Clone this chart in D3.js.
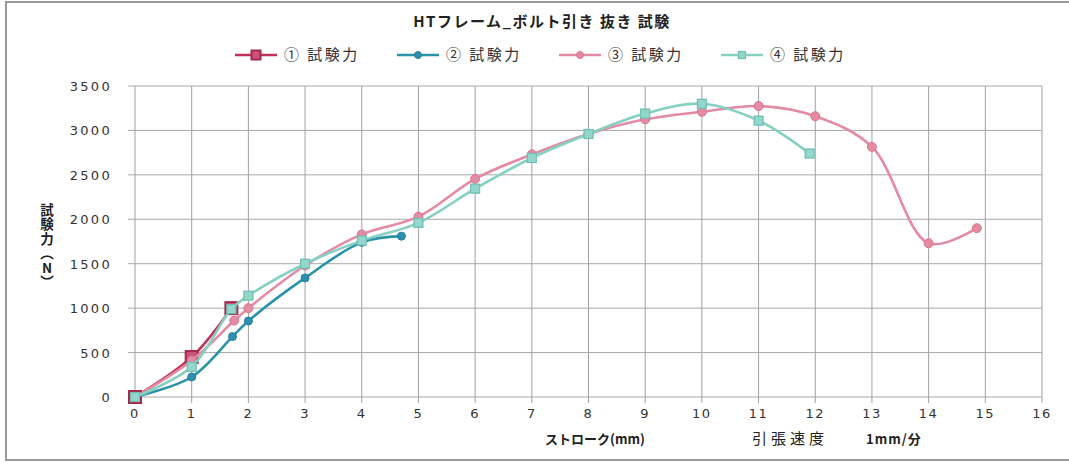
<!DOCTYPE html>
<html><head><meta charset="utf-8">
<script src="https://cdn.jsdelivr.net/npm/d3@7"></script>
<style>
body{margin:0;background:#fff;}
svg{display:block;}
</style></head>
<body><svg id="c" width="1069" height="463"></svg>
<script>
const titleText = "HTフレーム_ボルト引き 抜き 試験";
const seriesNames = ["① 試験力", "② 試験力", "③ 試験力", "④ 試験力"];
const s1x = [0, 1, 1.7];
const s1y = [0, 450, 1000];
const s2x = [0, 1, 1.72, 2, 3, 4, 4.7];
const s2y = [0, 225, 680, 855, 1340, 1740, 1810];
const s3x = [0, 1, 1.75, 2, 3, 4, 5, 6, 7, 8, 9, 10, 11, 12, 13, 14, 14.85];
const s3y = [0, 410, 860, 1000, 1480, 1830, 2030, 2455, 2730, 2960, 3125, 3210, 3275, 3160, 2815, 1730, 1900];
const s4x = [0, 1, 1.7, 2, 3, 4, 5, 6, 7, 8, 9, 10, 11, 11.9];
const s4y = [0, 340, 990, 1140, 1500, 1760, 1960, 2345, 2690, 2960, 3190, 3300, 3110, 2740];
const xTicks = d3.range(0, 17, 1);
const yTicks = [0, 500, 1000, 1500, 2000, 2500, 3000, 3500];
const xTitle = "ストローク(mm)";
const speedLabel = "引張速度";
const speedValue = "1mm/分";
const yTitle = "試験力（N）";

const colors = ["#BF3158", "#2A93A6", "#E58AA3", "#86D0C2"];
const markerStroke = ["#A8284A", "#23809A", "#D9758F", "#6FBFB2"];

const svg = d3.select("#c");
const x = d3.scaleLinear().domain([0, 16]).range([135, 1042]);
const y = d3.scaleLinear().domain([0, 3500]).range([397, 86]);

// frame
svg.append("rect").attr("x", 6).attr("y", 2).attr("width", 1075).attr("height", 458)
  .attr("fill", "#fff").attr("stroke", "#9a9a9a").attr("stroke-width", 2);

// grid
const grid = svg.append("g");
grid.selectAll("line.v").data(xTicks).join("line")
  .attr("x1", d => x(d)).attr("x2", d => x(d)).attr("y1", y(3500)).attr("y2", y(0) + 6)
  .attr("stroke", "#a0a0a0").attr("stroke-width", 1);
grid.selectAll("line.h").data(yTicks).join("line")
  .attr("x1", x(0) - 7).attr("x2", x(16)).attr("y1", d => y(d)).attr("y2", d => y(d))
  .attr("stroke", "#a8a8a8").attr("stroke-width", 1);

// axis labels
const tickFont = "'DejaVu Sans', sans-serif";
svg.append("g").selectAll("text").data(xTicks).join("text")
  .attr("x", d => x(d)).attr("y", 418).attr("text-anchor", "middle")
  .attr("font-family", tickFont).attr("font-size", 13).attr("letter-spacing", 1.5)
  .attr("fill", "#333").text(d => d);
svg.append("g").selectAll("text").data(yTicks).join("text")
  .attr("x", 112).attr("y", d => y(d) + 5).attr("text-anchor", "end")
  .attr("font-family", tickFont).attr("font-size", 13).attr("letter-spacing", 2.3)
  .attr("fill", "#333").text(d => d);

// titles
const jp = "'Noto Sans CJK JP', sans-serif";
svg.append("text").attr("x", 542).attr("y", 27).attr("text-anchor", "middle")
  .attr("font-family", jp).attr("font-weight", "bold").attr("font-size", 15)
  .attr("letter-spacing", 1.5).attr("fill", "#222").text(titleText);
svg.append("text").attr("x", 595).attr("y", 444).attr("text-anchor", "middle")
  .attr("font-family", jp).attr("font-weight", "bold").attr("font-size", 13)
  .attr("fill", "#222").text(xTitle);
svg.append("text").attr("x", 752).attr("y", 444)
  .attr("font-family", jp).attr("font-size", 15).attr("letter-spacing", 4)
  .attr("fill", "#222").text(speedLabel);
svg.append("text").attr("x", 866).attr("y", 444)
  .attr("font-family", jp).attr("font-weight", "bold").attr("font-size", 13).attr("letter-spacing", 1)
  .attr("fill", "#222").text(speedValue);
svg.append("text").attr("x", 47).attr("y", 203)
  .style("writing-mode", "vertical-rl").style("text-orientation", "upright")
  .attr("font-family", jp).attr("font-weight", "bold").attr("font-size", 13.5)
  .attr("letter-spacing", 1).attr("fill", "#222").text(yTitle);

// series
const series = [
  {xs: s1x, ys: s1y, shape: "bigsquare"},
  {xs: s2x, ys: s2y, shape: "circle"},
  {xs: s3x, ys: s3y, shape: "dot"},
  {xs: s4x, ys: s4y, shape: "square"}
];
const line = d3.line().x(d => x(d[0])).y(d => y(d[1])).curve(d3.curveCatmullRom.alpha(0.5));

function marker(g, shape, cx, cy, i, legend) {
  if (shape === "bigsquare") {
    const s = legend ? 9 : 12;
    g.append("rect").attr("x", cx - s / 2).attr("y", cy - s / 2).attr("width", s).attr("height", s)
      .attr("fill", "#C9537A").attr("stroke", markerStroke[i]).attr("stroke-width", 2);
  } else if (shape === "square") {
    const s = legend ? 7 : 9;
    g.append("rect").attr("x", cx - s / 2).attr("y", cy - s / 2).attr("width", s).attr("height", s)
      .attr("fill", "#93D6CB").attr("stroke", markerStroke[i]).attr("stroke-width", 1.2);
  } else if (shape === "circle") {
    g.append("circle").attr("cx", cx).attr("cy", cy).attr("r", legend ? 3.5 : 4)
      .attr("fill", "#2F8FB0").attr("stroke", markerStroke[i]).attr("stroke-width", 1);
  } else {
    g.append("circle").attr("cx", cx).attr("cy", cy).attr("r", legend ? 3.5 : 4.5)
      .attr("fill", "#E48BA4").attr("stroke", markerStroke[i]).attr("stroke-width", 1);
  }
}

const plot = svg.append("g");
series.forEach((s, i) => {
  const pts = s.xs.map((v, k) => [v, s.ys[k]]);
  const g = plot.append("g");
  g.append("path").attr("d", line(pts)).attr("fill", "none")
    .attr("stroke", colors[i]).attr("stroke-width", 2.6).attr("stroke-linejoin", "round");
  pts.forEach(p => marker(g, s.shape, x(p[0]), y(p[1]), i, false));
});

// legend
const legX = [235, 397, 559, 721];
const leg = svg.append("g");
seriesNames.forEach((name, i) => {
  const lx = legX[i];
  leg.append("line").attr("x1", lx).attr("x2", lx + 42).attr("y1", 55).attr("y2", 55)
    .attr("stroke", colors[i]).attr("stroke-width", 2.6);
  marker(leg, series[i].shape, lx + 21, 55, i, true);
  leg.append("text").attr("x", lx + 49).attr("y", 60)
    .attr("font-family", jp).attr("font-size", 15).attr("letter-spacing", 2.5)
    .attr("fill", "#333").text(name);
});
</script></body></html>
